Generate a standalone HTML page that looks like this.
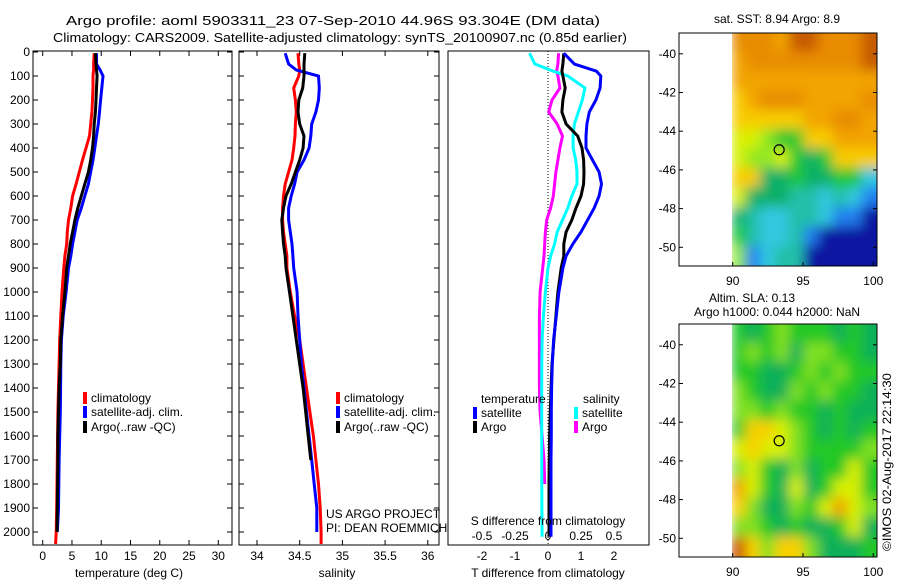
<!DOCTYPE html>
<html><head><meta charset="utf-8">
<style>
html,body{margin:0;padding:0;background:#fff;}
svg{display:block;font-family:"Liberation Sans",Arial,sans-serif;font-size:12px;}
</style></head>
<body>
<svg id="fig" width="900" height="580" viewBox="0 0 900 580" xmlns="http://www.w3.org/2000/svg">
<defs>
<filter id="blur1" filterUnits="userSpaceOnUse" x="700" y="0" width="200" height="300"><feGaussianBlur stdDeviation="6"/></filter>
<filter id="blur2" filterUnits="userSpaceOnUse" x="700" y="290" width="200" height="300"><feGaussianBlur stdDeviation="6"/></filter>
<clipPath id="clipMap1"><rect x="732" y="33" width="145" height="233"/></clipPath>
<clipPath id="clipMap2"><rect x="732" y="324" width="145" height="233"/></clipPath>
</defs>
<text x="333" y="25" text-anchor="middle" font-size="13" textLength="534" lengthAdjust="spacingAndGlyphs">Argo profile: aoml 5903311_23 07-Sep-2010 44.96S 93.304E (DM data)</text>
<text x="340" y="42" text-anchor="middle" font-size="13" textLength="574" lengthAdjust="spacingAndGlyphs">Climatology: CARS2009. Satellite-adjusted climatology: synTS_20100907.nc (0.85d earlier)</text>
<g id="g1"></g>
<g id="g2"></g>
<g id="g3"></g>
<g id="g4"></g>
<g id="g5"></g>
<text transform="translate(891,462) rotate(-90)" text-anchor="middle" textLength="178" lengthAdjust="spacingAndGlyphs">©IMOS 02-Aug-2017 22:14:30</text>
</svg>
<script>
// ---- profile data ----
const depthLevels = [5,50,75,100,150,200,250,300,350,400,450,500,550,600,650,700,750,800,850,900,1000,1100,1200,1300,1400,1500,1600,1700,1800,1900,2000,2050];
const tempClim = [8.8,8.7,8.7,8.6,8.6,8.5,8.4,8.2,8.0,7.4,6.8,6.25,5.7,5.1,4.8,4.4,4.2,4.1,3.8,3.6,3.3,3.1,2.9,2.8,2.7,2.6,2.55,2.5,2.45,2.4,2.3,2.2];
const tempSat = [9.2,9.2,9.8,10.3,10.1,9.9,9.7,9.5,9.2,8.9,8.6,8.2,7.8,7.2,6.6,5.9,5.5,5.1,4.8,4.4,4.0,3.5,3.2,3.1,3.05,3.0,2.9,2.8,2.75,2.7,2.5,null];
const tempArgo = [9.0,9.1,9.2,9.3,9.2,9.1,9.0,8.8,8.7,8.5,8.2,7.8,7.2,6.6,6.0,5.5,5.1,4.7,4.4,4.1,3.8,3.4,3.1,3.0,2.8,2.7,2.6,2.6,2.55,2.5,2.45,null];
const salClim = [34.48,34.49,34.50,34.49,34.43,34.45,34.46,34.45,34.445,34.43,34.41,34.37,34.33,34.31,34.30,34.30,34.31,34.33,34.35,34.35,34.39,34.44,34.50,34.54,34.58,34.62,34.66,34.69,34.72,34.74,34.75,34.75];
const salSat = [34.33,34.37,34.46,34.72,34.73,34.72,34.69,34.64,34.63,34.61,34.55,34.47,34.44,34.40,34.37,34.37,34.39,34.41,34.42,34.43,34.47,34.48,34.50,34.52,34.55,34.58,34.61,34.64,34.67,34.70,34.70,null];
const salArgo = [34.56,34.55,34.55,34.55,34.535,34.49,34.48,34.50,34.55,34.54,34.50,34.45,34.40,34.34,34.31,34.29,34.30,34.31,34.33,34.34,34.38,34.42,34.46,34.50,34.54,34.57,34.60,34.63,null,null,null,null];
// differences from climatology
const diffDepths = [5,50,80,100,150,200,250,300,350,400,450,500,550,600,650,700,750,800,850,900,1000,1100,1200,1300,1400,1500,1600,1700,1800,1900,2020];
const dTempSat = [0.48,0.8,1.47,1.60,1.58,1.45,1.25,1.18,1.15,1.15,1.35,1.55,1.62,1.55,1.4,1.2,1.0,0.75,0.55,0.45,0.33,0.25,0.17,0.13,0.11,0.1,0.1,0.09,0.09,0.09,0.09];
const dTempArgo = [0.48,0.45,0.42,0.45,0.52,0.45,0.42,0.55,0.9,1.03,1.08,1.09,1.08,1.0,0.85,0.72,0.55,0.48,0.48,0.4,0.3,0.24,0.18,0.12,0.09,0.07,0.05,0.04,0.03,0.03,0.03];
const dSalSat = [-0.14,-0.1,0.04,0.15,0.28,0.26,0.23,0.20,0.19,0.19,0.21,0.22,0.22,0.18,0.15,0.11,0.07,0.05,0.02,0.0,-0.02,-0.035,-0.045,-0.047,-0.048,-0.048,-0.048,-0.048,-0.047,-0.046,-0.045];
const dSalArgo = [0.08,0.075,0.065,0.075,0.09,0.03,0.005,0.07,0.11,0.09,0.075,0.06,0.05,0.04,0.02,-0.01,-0.02,-0.025,-0.03,-0.04,-0.06,-0.065,-0.065,-0.065,-0.065,-0.06,-0.045,-0.03,-0.025,null,null];
// ticks
const depthTicks = [0,100,200,300,400,500,600,700,800,900,1000,1100,1200,1300,1400,1500,1600,1700,1800,1900,2000];
const tempTicks = [0,5,10,15,20,25,30];
const salTicks = [34,34.5,35,35.5,36];
const dTempTicks = [-2,-1,0,1,2];
const dSalTicks = [-0.5,-0.25,0,0.25,0.5];
const latTicks = [-40,-42,-44,-46,-48,-50];
const lonTicks = [90,95,100];
// map imagery (coarse colour grids, rows north->south)
const sstGrid = ["OOOoRROOOR","oOOOOOOOOR","oooooooooo","YoOOOooooO","YYYYYooOOo","yyLGGYYooo","yLLyGgGYYY","YYggGggGGc","ygggCCcCcB","gCccCCcBBN","GCccCBNNNN","LBcCCNNNNN"];
const slaGrid = ["GgGLGGGgGg","GLGLgLLGGg","GGggGLGLGG","LGggLGLGGg","LLGLGGgGgg","GYYyLGgGgG","yYyyLGGGGL","LyGgLgGGyG","OyGgygGyyG","YLggLGyOyL","LLGgGggGyg","RYLYYLgggG"];
const sstPalette = {R:"#c85a00",O:"#e88c00",o:"#f2a400",Y:"#f8cc00",y:"#d8f000",L:"#90e820",G:"#20c830",g:"#10b068",C:"#20c0a8",c:"#30c8e0",B:"#2080f0",N:"#0818a0"};
const slaPalette = {R:"#c84800",O:"#f0a000",Y:"#f8d000",y:"#d8f000",L:"#80e020",G:"#20c828",g:"#10b058",c:"#20c0a0"};
const floatLon = 93.304, floatLat = -44.96;

const NS="http://www.w3.org/2000/svg";
function mk(parent, tag, attrs, text){
  const e=document.createElementNS(NS,tag);
  for(const k in attrs) e.setAttribute(k,attrs[k]);
  if(text!==undefined) e.textContent=text;
  parent.appendChild(e); return e;
}
const yD = d => 52 + d*0.24;
const xT = t => 42.7 + t*5.853;
const xS = s => 257 + (s-34)*85.4;
const xDT = t => 548 + t*33;
const xDS = s => 548 + s*132;

function stairs(depths, vals, xf){
  let pts=[];
  for(let i=0;i<depths.length;i++){
    if(vals[i]===null) break;
    pts.push(xf(vals[i]).toFixed(1)+","+Math.min(544,yD(depths[i])).toFixed(1));
  }
  return pts.join(" ");
}
function frame(g, x0, x1, name){
  const r=mk(g,"rect",{x:x0,y:51,width:x1-x0,height:494,fill:"none",stroke:"#000","stroke-width":1});
  
  
}
function yticks(g, x0, x1, labels){
  depthTicks.forEach(d=>{
    const y=yD(d);
    const t1=mk(g,"line",{x1:x0,x2:x0+5,y1:y,y2:y,stroke:"#000"});
    
    
    const t2=mk(g,"line",{x1:x1-5,x2:x1,y1:y,y2:y,stroke:"#000"});
    
    
    if(labels){
      const tx=mk(g,"text",{x:x0-3,y:y+4,"text-anchor":"end"},String(d));
      
      
    }
  });
}
function xticks(g, ticks, xf, fmt){
  ticks.forEach(v=>{
    const x=xf(v);
    const a=mk(g,"line",{x1:x,x2:x,y1:545,y2:540,stroke:"#000"});
    
    
    const b=mk(g,"line",{x1:x,x2:x,y1:51,y2:56,stroke:"#000"});
    
    
    const t=mk(g,"text",{x:x,y:560,"text-anchor":"middle"},fmt(v));
    
    
  });
}
function line(g, depths, vals, xf, color, name){
  const p=mk(g,"polyline",{points:stairs(depths,vals,xf),fill:"none",stroke:color,"stroke-width":3,"stroke-linejoin":"miter"});
  
  
}
function legendItem(g, x, y, color, label){
  const m=mk(g,"rect",{x:x,y:y-6,width:4,height:12,fill:color});
  
  
  const t=mk(g,"text",{x:x+8,y:y+4},label);
  
  
}

// Panel 1: temperature
const g1=document.getElementById('g1');
frame(g1,33,232,'temperature-axes-frame');
yticks(g1,33,232,true);
xticks(g1,tempTicks,xT,v=>String(v));
line(g1,depthLevels,tempClim,xT,"#ff0000","temp-climatology-line");
line(g1,depthLevels,tempSat,xT,"#0000ff","temp-satellite-line");
line(g1,depthLevels,tempArgo,xT,"#000000","temp-argo-line");
legendItem(g1,83,398,"#ff0000","climatology");
legendItem(g1,83,412,"#0000ff","satellite-adj. clim.");
legendItem(g1,83,427,"#000000","Argo(..raw -QC)");
const xl1=mk(g1,"text",{x:129,y:577,"text-anchor":"middle"},"temperature (deg C)");



// Panel 2: salinity
const g2=document.getElementById('g2');
frame(g2,239,439,'salinity-axes-frame');
yticks(g2,239,439,false);
xticks(g2,salTicks,xS,v=>String(v));
line(g2,depthLevels,salClim,xS,"#ff0000","sal-climatology-line");
line(g2,depthLevels,salSat,xS,"#0000ff","sal-satellite-line");
line(g2,depthLevels,salArgo,xS,"#000000","sal-argo-line");
legendItem(g2,336,398,"#ff0000","climatology");
legendItem(g2,336,412,"#0000ff","satellite-adj. clim.");
legendItem(g2,336,427,"#000000","Argo(..raw -QC)");
const pr1=mk(g2,"text",{x:326,y:518},"US ARGO PROJECT");


const pr2=mk(g2,"text",{x:326,y:532},"PI: DEAN ROEMMICH");


const xl2=mk(g2,"text",{x:337,y:577,"text-anchor":"middle"},"salinity");



// Panel 3: differences
const g3=document.getElementById('g3');
frame(g3,448,649,'difference-axes-frame');
const zl=mk(g3,"line",{x1:xDT(0),x2:xDT(0),y1:51,y2:545,stroke:"#000","stroke-dasharray":"1,2"});


dTempTicks.forEach(v=>{
  const t=mk(g3,"text",{x:xDT(v),y:560,"text-anchor":"middle"},String(v));
  
  
});
dSalTicks.forEach(v=>{
  const t=mk(g3,"text",{x:xDS(v),y:540,"text-anchor":"middle"},String(v));
  
  
});
line(g3,diffDepths,dSalArgo,xDS,"#ff00ff","sal-diff-argo-line");
line(g3,diffDepths,dSalSat,xDS,"#00ffff","sal-diff-satellite-line");
line(g3,diffDepths,dTempArgo,xDT,"#000000","temp-diff-argo-line");
line(g3,diffDepths,dTempSat,xDT,"#0000ff","temp-diff-satellite-line");
const lt=mk(g3,"text",{x:481,y:403},"temperature");


const ls=mk(g3,"text",{x:583,y:403},"salinity");


legendItem(g3,473,413,"#0000ff","satellite");
legendItem(g3,473,427,"#000000","Argo");
legendItem(g3,574,413,"#00ffff","satellite");
legendItem(g3,574,427,"#ff00ff","Argo");
const sl=mk(g3,"text",{x:548,y:525,"text-anchor":"middle"},"S difference from climatology");


const tl=mk(g3,"text",{x:548,y:577,"text-anchor":"middle"},"T difference from climatology");



// Maps
function drawMap(g, top, grid, palette, clipId, filterId){
  const x0=679, x1=877, dataX=732, h=233;
  const lonX = lon => 732.7 + (lon-90)*14.06;
  const latY = lat => top + 20.8 + (-40-lat)*19.35;
  const cw=(x1-dataX)/grid[0].length, ch=h/grid.length;
  const img=mk(g,"g",{"clip-path":"url(#"+clipId+")"});
  
  
  const inner=mk(img,"g",{filter:"url(#"+filterId+")"});
  
  
  grid.forEach((row,r)=>{
    for(let c=0;c<row.length;c++){
      const x=dataX+c*cw-(c==0?0:1);
      const y=top+r*ch-(r==0?15:1);
      const w=cw+(c==row.length-1?16:2);
      const hh=ch+2+(r==grid.length-1?15:0)+(r==0?15:0);
      const cell=mk(inner,"rect",{x:x.toFixed(1),y:y.toFixed(1),width:w.toFixed(1),height:hh.toFixed(1),fill:palette[row[c]]});
      
      
    }
  });
  const fr=mk(g,"rect",{x:x0,y:top,width:x1-x0,height:h,fill:"none",stroke:"#000"});
  
  
  latTicks.forEach(v=>{
    const y=latY(v);
    const tk=mk(g,"line",{x1:x0,x2:x0+4,y1:y,y2:y,stroke:"#000"});
    
    
    const tk2=mk(g,"line",{x1:x1-4,x2:x1,y1:y,y2:y,stroke:"#000"});
    
    
    const t=mk(g,"text",{x:x0-3,y:y+4,"text-anchor":"end"},String(v));
    
    
  });
  lonTicks.forEach(v=>{
    const x=lonX(v);
    const tk=mk(g,"line",{x1:x,x2:x,y1:top+h,y2:top+h-4,stroke:"#000"});
    
    
    const t=mk(g,"text",{x:x,y:top+h+19,"text-anchor":"middle"},String(v));
    
    
  });
  const ci=mk(g,"ellipse",{cx:lonX(floatLon),cy:latY(floatLat),rx:5,ry:5,fill:"none",stroke:"#000","stroke-width":1.2});
  
  
}
const g4=document.getElementById('g4');
drawMap(g4,33,sstGrid,sstPalette,"clipMap1","blur1");
const t4=mk(g4,"text",{x:777,y:23,"text-anchor":"middle"},"sat. SST: 8.94 Argo: 8.9");


const g5=document.getElementById('g5');
drawMap(g5,324,slaGrid,slaPalette,"clipMap2","blur2");
const t5=mk(g5,"text",{x:752,y:302,"text-anchor":"middle"},"Altim. SLA: 0.13");


const t6=mk(g5,"text",{x:777,y:316,"text-anchor":"middle"},"Argo h1000: 0.044 h2000: NaN");


</script>
</body></html>
